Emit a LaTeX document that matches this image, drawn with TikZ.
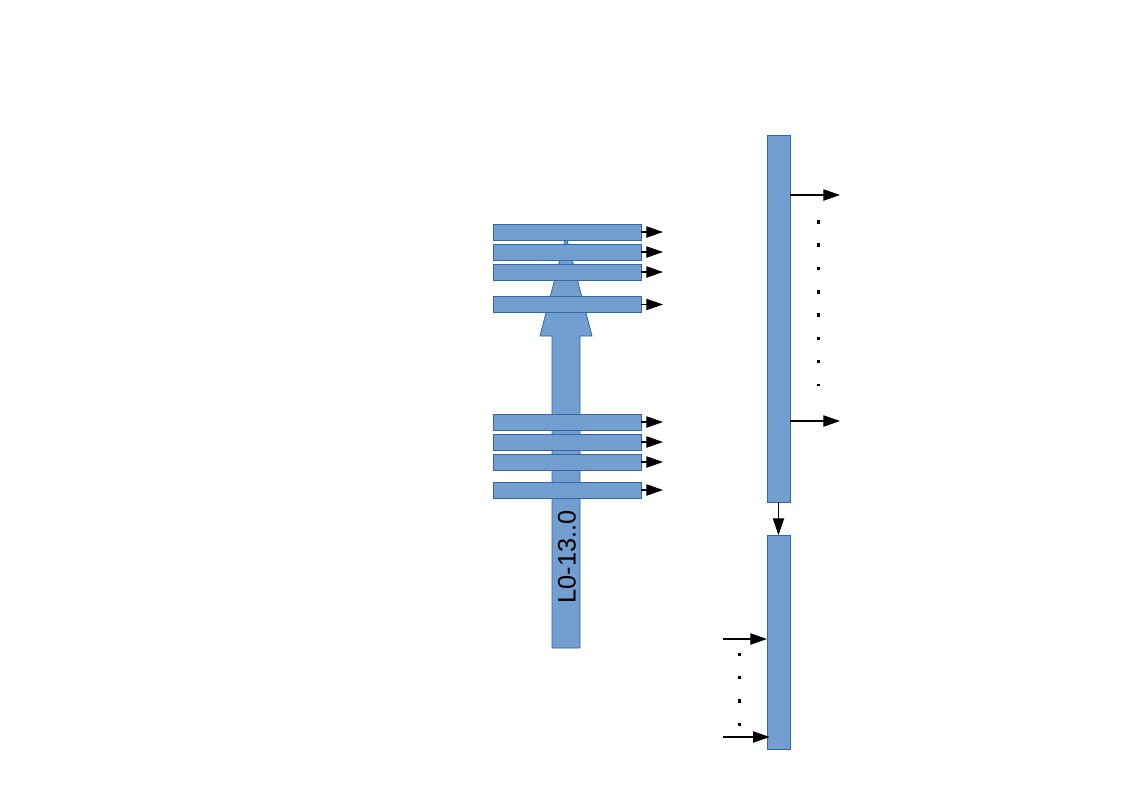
\documentclass[tikz,border=0pt]{standalone}
\usepackage{fontspec}
\setmainfont{Liberation Sans}
\usepackage{tikz}
\usetikzlibrary{arrows.meta,positioning}
\definecolor{lofill}{HTML}{729FCF}
\definecolor{loborder}{HTML}{3465A4}

\begin{document}
\begin{tikzpicture}[x=0.75pt, y=-0.75pt,
  bar/.style={rectangle, draw=loborder, fill=lofill, inner sep=0pt, outer sep=0pt,
              minimum width=111pt, minimum height=12pt},
  col/.style={rectangle, draw=loborder, fill=lofill, inner sep=0pt, outer sep=0pt,
              minimum width=17.25pt},
  arr/.style={-{Triangle[length=12.5pt, width=8.5pt]}, black, line width=0.8pt},
  dot/.style={fill=black},
  node distance=16.5pt
]
  \useasboundingbox (0,0) rectangle (1123,794);

  % big upward arrow
  \fill[lofill, draw=loborder, line width=0.6pt]
    (552,648) -- (552,336) -- (540,336) -- (566,236) -- (592,336) -- (580,336) -- (580,648) -- cycle;

  % bars across the arrow
  \node[bar] (b1) at (567,232) {};
  \node[bar] (b2) at (567,252) {};
  \node[bar] (b3) at (567,272) {};
  \node[bar] (b4) at (567,304.5) {};
  \node[bar] (b5) at (567,422) {};
  \node[bar] (b6) at (567,442) {};
  \node[bar] (b7) at (567,462) {};
  \node[bar] (b8) at (567,490) {};
  \foreach \i in {1,...,8}{
    \coordinate[right=of b\i] (o\i);
    \draw[arr] (b\i.east) -- (o\i);
  }

  \node[rotate=90, font=\fontsize{19}{22}\selectfont] (lbl) at (567,557) {L0-13..0};

  % right columns
  \node[col, minimum height=275.25pt] (top) at (778.5,318.5) {};
  \node[col, minimum height=160.5pt] (low) at (778.5,642) {};
  \draw[arr] (top.south) -- (low.north);

  \coordinate (r1) at (840,195);
  \coordinate (r2) at (840,421);
  \draw[arr] (r1 -| top.east) -- (r1);
  \draw[arr] (r2 -| top.east) -- (r2);

  \coordinate (i1) at (723,639);
  \coordinate (i2) at (723,737);
  \draw[arr] (i1) -- (i1 -| low.west);
  \draw[arr] (i2) -- ([xshift=2pt]i2 -| low.west);

  % dots
  \foreach \k in {0,...,6}
    \fill[dot] (816.5,{220+23.33*\k}) rectangle ++(3.5,3.5);
  \fill[dot] (816.5,383.5) rectangle ++(3.5,2);
  \foreach \k in {0,...,3}
    \fill[dot] (737.5,{652.5+23.33*\k}) rectangle ++(3.5,3.5);
\end{tikzpicture}
\end{document}
